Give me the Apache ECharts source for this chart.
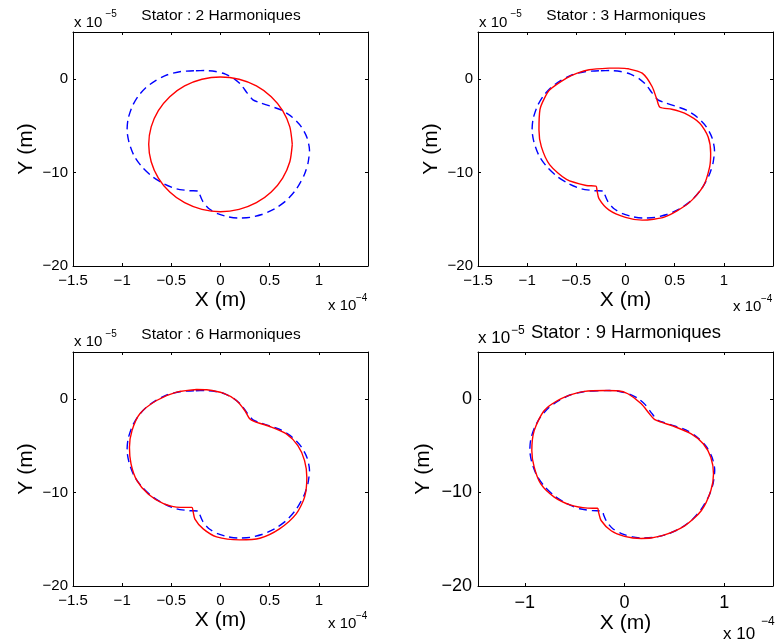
<!DOCTYPE html>
<html><head><meta charset="utf-8">
<script src="https://cdn.jsdelivr.net/npm/echarts@6/dist/echarts.min.js"></script>
<style>html,body{margin:0;padding:0;background:#fff}#c{width:775px;height:641px}</style>
</head><body><div id="c"></div>
<script>
// Values in the axes' scaled units: X in 1e-4 m, Y in 1e-5 m
const panelTitles = ['Stator : 2 Harmoniques', 'Stator : 3 Harmoniques', 'Stator : 6 Harmoniques', 'Stator : 9 Harmoniques'];
const xTicksA = [-1.5, -1, -0.5, 0, 0.5, 1];
const xTicksB = [-1, 0, 1];
const yTicks = [-20, -10, 0];

// measured curve (blue dashed), identical in every panel
const blueX = [-0.27,-0.40,-0.54,-0.66,-0.76,-0.84,-0.90,-0.94,-0.95,-0.93,-0.88,-0.80,-0.70,-0.58,-0.45,-0.32,-0.22,-0.21,-0.18,-0.12,-0.03,0.08,0.18,0.30,0.42,0.55,0.67,0.77,0.85,0.89,0.905,0.88,0.82,0.73,0.62,0.50,0.40,0.33,0.27,0.21,0.14,0.05,-0.05,-0.15,-0.27];
const blueY = [0.86,0.78,0.43,-0.2,-0.95,-1.9,-3.0,-4.3,-5.5,-6.8,-8.2,-9.4,-10.4,-11.2,-11.75,-11.95,-12.0,-12.4,-13.1,-13.85,-14.4,-14.75,-14.88,-14.8,-14.5,-13.9,-13.0,-11.8,-10.3,-9.0,-7.6,-6.3,-5.1,-4.1,-3.35,-2.9,-2.55,-2.25,-1.5,-0.65,0.0,0.5,0.78,0.88,0.86];

// model curves (red solid)
const red2X = [0.73,0.705,0.632,0.516,0.365,0.189,0,-0.189,-0.365,-0.516,-0.632,-0.705,-0.73,-0.705,-0.632,-0.516,-0.365,-0.189,0,0.189,0.365,0.516,0.632,0.705,0.73];
const red2Y = [-7.0,-5.14,-3.4,-1.91,-0.76,-0.05,0.2,-0.05,-0.76,-1.91,-3.4,-5.14,-7.0,-8.86,-10.6,-12.09,-13.24,-13.95,-14.2,-13.95,-13.24,-12.09,-10.6,-8.86,-7.0];

const red3X = [-0.168,-0.37,-0.49,-0.60,-0.77,-0.83,-0.87,-0.88,-0.856,-0.77,-0.60,-0.40,-0.30,-0.29,-0.27,-0.17,0,0.17,0.40,0.64,0.79,0.856,0.866,0.84,0.755,0.60,0.47,0.35,0.32,0.27,0.17,0.03,-0.07,-0.168];
const red3Y = [1.14,0.96,0.6,0.07,-1.18,-2.2,-3.3,-5.46,-7.25,-9.2,-10.75,-11.4,-11.46,-11.9,-12.8,-14.0,-14.8,-15.1,-14.75,-13.3,-11.5,-9.4,-7.96,-6.2,-4.75,-3.68,-3.25,-3.04,-2.25,-0.82,0.6,1.07,1.14,1.14];

const red6X = [-0.243,-0.446,-0.65,-0.82,-0.90,-0.926,-0.91,-0.85,-0.733,-0.58,-0.41,-0.29,-0.28,-0.26,-0.176,-0.04,0.196,0.40,0.60,0.77,0.855,0.878,0.855,0.787,0.67,0.50,0.348,0.297,0.247,0.162,0.027,-0.14,-0.243];
const red6Y = [1.0,0.71,-0.18,-1.6,-3.4,-5.18,-6.96,-8.75,-10.2,-11.2,-11.6,-11.6,-11.96,-12.86,-13.9,-14.75,-15.07,-14.9,-13.9,-12.3,-10.5,-8.4,-6.6,-5.0,-3.75,-2.96,-2.43,-2.14,-1.25,-0.18,0.6,0.96,1.0];

const red9X = [-0.185,-0.40,-0.64,-0.805,-0.906,-0.93,-0.906,-0.84,-0.705,-0.537,-0.37,-0.27,-0.26,-0.235,-0.134,0,0.168,0.37,0.604,0.77,0.866,0.893,0.866,0.79,0.67,0.50,0.37,0.30,0.25,0.168,0.034,-0.067,-0.185];
const red9Y = [0.89,0.79,0,-1.25,-3.4,-5.54,-7.3,-9.1,-10.5,-11.36,-11.68,-11.7,-12.14,-13.0,-14.1,-14.7,-14.93,-14.64,-13.57,-11.96,-9.82,-8.04,-6.25,-4.8,-3.75,-2.96,-2.5,-2.2,-1.6,-0.54,0.54,0.86,0.89];

const redX = [red2X, red3X, red6X, red9X];
const redY = [red2Y, red3Y, red6Y, red9Y];

const zip = (a, b) => a.map((v, i) => [v, b[i]]);
const FF = '"Liberation Sans", Arial, sans-serif';
const fmtFor = list => v => list.some(t => Math.abs(t - v) < 1e-9) ? (v < 0 ? '\u2212' : '') + Math.abs(v) : '';

// layout per panel
const panels = [
  {left:73, top:32, xmin:-1.5, xmax:1.5, xt:xTicksA, tf:15, xm:7, ym:5, yg:36, xg:24,
   title:[221,16,15.5], topX:[74,22.5,105.5,14,15,10], botX:[328,306,356,298,15,10]},
  {left:478, top:32, xmin:-1.5, xmax:1.5, xt:xTicksA, tf:15, xm:7, ym:5, yg:36, xg:24,
   title:[626,16,15.5], topX:[479,22.5,510.5,14,15,10], botX:[733,307,761,299,15,10]},
  {left:73, top:352, xmin:-1.5, xmax:1.5, xt:xTicksA, tf:15, xm:7, ym:5, yg:36, xg:24,
   title:[221,335,15.5], topX:[74,342,105.5,334,15,10], botX:[328,624,356,616,15,10]},
  {left:478, top:352, xmin:-1.47, xmax:1.49, xt:xTicksB, tf:18, xm:8, ym:6, yg:44, xg:27,
   title:[626,333,18.5], topX:[478,338.5,511,331,17,12], botX:[723,634,761,622,17,12]}
];
const W = 295, H = 234;

const grid = [], xAxis = [], yAxis = [], series = [], graphic = [];
panels.forEach((p, i) => {
  grid.push({left:p.left, top:p.top, width:W, height:H, containLabel:false});
  ['bottom','top'].forEach(pos => {
    xAxis.push({
      type:'value', gridIndex:i, position:pos, min:p.xmin, max:p.xmax,
      axisLine:{show:true, onZero:false, lineStyle:{color:'#000', width:1}},
      axisTick:{show:true, inside:true, length:3, customValues:p.xt, lineStyle:{color:'#000', width:1}},
      axisLabel:{show:pos==='bottom', customValues:p.xt, formatter:fmtFor(p.xt), color:'#000', fontSize:p.tf, fontFamily:FF, margin:p.xm},
      splitLine:{show:false},
      name: pos==='bottom' ? 'X (m)' : '', nameLocation:'middle', nameGap:p.xg,
      nameTextStyle:{color:'#000', fontSize:21, fontFamily:FF}
    });
  });
  ['left','right'].forEach(pos => {
    yAxis.push({
      type:'value', gridIndex:i, position:pos, min:-20, max:5,
      axisLine:{show:true, onZero:false, lineStyle:{color:'#000', width:1}},
      axisTick:{show:true, inside:true, length:3, customValues:yTicks, lineStyle:{color:'#000', width:1}},
      axisLabel:{show:pos==='left', customValues:yTicks, formatter:fmtFor(yTicks), color:'#000', fontSize:p.tf, fontFamily:FF, margin:p.ym},
      splitLine:{show:false},
      name: pos==='left' ? 'Y (m)' : '', nameLocation:'middle', nameGap:p.yg,
      nameTextStyle:{color:'#000', fontSize:21, fontFamily:FF}
    });
  });
  series.push({
    type:'line', xAxisIndex:2*i, yAxisIndex:2*i, data:zip(blueX, blueY),
    showSymbol:false, smooth:0.25, lineStyle:{color:'#0000ff', width:1.4, type:[8,5]}, z:2
  });
  series.push({
    type:'line', xAxisIndex:2*i, yAxisIndex:2*i, data:zip(redX[i], redY[i]),
    showSymbol:false, smooth:0.25, lineStyle:{color:'#ff0000', width:1.4}, z:3
  });
  const t = p.title;
  graphic.push({type:'text', style:{text:panelTitles[i], x:t[0], y:t[1], align:'center', verticalAlign:'middle', font:t[2]+'px '+FF, fill:'#000'}});
  const a = p.topX, b = p.botX;
  graphic.push({type:'text', style:{text:'x 10', x:a[0], y:a[1], verticalAlign:'middle', font:a[4]+'px '+FF, fill:'#000'}});
  graphic.push({type:'text', style:{text:'\u22125', x:a[2], y:a[3], verticalAlign:'middle', font:a[5]+'px '+FF, fill:'#000'}});
  graphic.push({type:'text', style:{text:'x 10', x:b[0], y:b[1], verticalAlign:'middle', font:b[4]+'px '+FF, fill:'#000'}});
  graphic.push({type:'text', style:{text:'\u22124', x:b[2], y:b[3], verticalAlign:'middle', font:b[5]+'px '+FF, fill:'#000'}});
});

const chart = echarts.init(document.getElementById('c'), null, {renderer:'canvas'});
chart.setOption({animation:false, backgroundColor:'#fff', grid, xAxis, yAxis, series, graphic});
</script></body></html>
